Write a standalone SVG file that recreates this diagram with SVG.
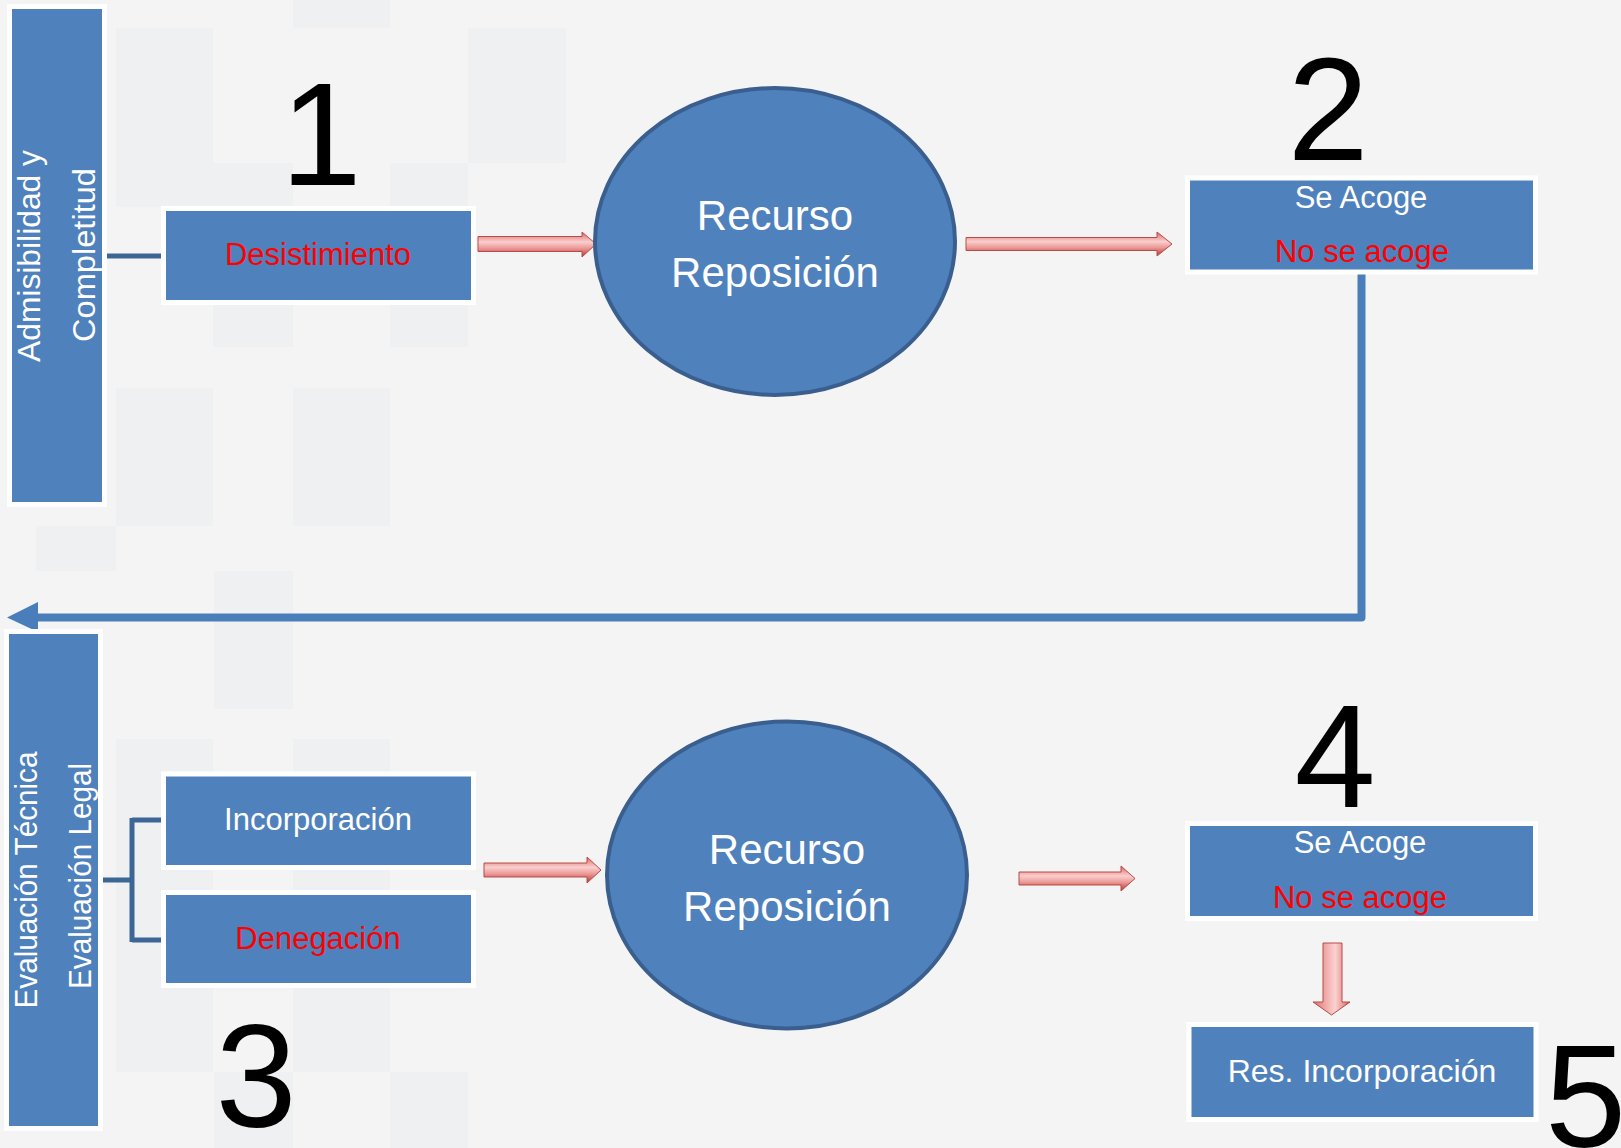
<svg xmlns="http://www.w3.org/2000/svg" width="1621" height="1148" viewBox="0 0 1621 1148">
<style>
.box{fill:#4f81bd;stroke:#ffffff;stroke-width:5}
.ell{fill:#4f81bd;stroke:#3a5f8e;stroke-width:4}
.t{font-family:"Liberation Sans",Arial,sans-serif;font-size:31px;text-anchor:middle}
.w{fill:#ffffff}
.r{fill:#ff0000}
.big{font-family:"Liberation Sans",Arial,sans-serif;font-size:146px;fill:#000000;text-anchor:middle}
.ec{font-family:"Liberation Sans",Arial,sans-serif;font-size:42px;fill:#ffffff;text-anchor:middle}
.link{fill:none;stroke:#3d6595;stroke-width:5}
.ret{fill:none;stroke:#4a7ebb;stroke-width:8;stroke-linejoin:round}
.harr{fill:url(#hg);stroke:#b84c49;stroke-width:1}
.varr{fill:url(#vg);stroke:#b84c49;stroke-width:1}
.mos{fill:#eff0f2}
</style>
<defs>
<linearGradient id="hg" x1="0" y1="0" x2="0" y2="1">
<stop offset="0" stop-color="#d0605e"/>
<stop offset="0.2" stop-color="#ec9c9a"/>
<stop offset="0.4" stop-color="#f9cfce"/>
<stop offset="0.65" stop-color="#ec9896"/>
<stop offset="0.85" stop-color="#cc605d"/>
<stop offset="1" stop-color="#9e3f3d"/>
</linearGradient>
<linearGradient id="vg" x1="0" y1="0" x2="1" y2="0">
<stop offset="0" stop-color="#d9706e"/>
<stop offset="0.3" stop-color="#eea3a1"/>
<stop offset="0.6" stop-color="#fad3d2"/>
<stop offset="0.85" stop-color="#e68d8b"/>
<stop offset="1" stop-color="#b84c49"/>
</linearGradient>
</defs>

<g id="background">
<rect x="0" y="0" width="1621" height="1148" fill="#f4f4f4"/>
<rect class="mos" x="293" y="0" width="97" height="28"/>
<rect class="mos" x="116" y="28" width="97" height="179"/>
<rect class="mos" x="468" y="28" width="98" height="135"/>
<rect class="mos" x="213" y="163" width="80" height="184"/>
<rect class="mos" x="390" y="163" width="78" height="184"/>
<rect class="mos" x="116" y="388" width="97" height="138"/>
<rect class="mos" x="293" y="388" width="97" height="138"/>
<rect class="mos" x="36" y="526" width="80" height="45"/>
<rect class="mos" x="214" y="571" width="79" height="138"/>
<rect class="mos" x="116" y="739" width="97" height="333"/>
<rect class="mos" x="293" y="739" width="97" height="333"/>
<rect class="mos" x="214" y="1072" width="79" height="76"/>
<rect class="mos" x="390" y="1072" width="78" height="76"/>
</g>

<g id="connectors">
<line class="link" x1="105" y1="256" x2="162" y2="256"/>
<path class="link" d="M103 880 H132 M132 818 V942 M132 820 H162 M132 940 H162"/>
<path class="ret" d="M1361.5 272 V617.5 H36"/>
<polygon fill="#4a7ebb" points="7,617.5 38,602 38,632"/>
<path class="harr" d="M478 236.5 H582 V232 L596 244 L582 257 V251.5 H478 Z"/>
<path class="harr" d="M966 237.5 H1157 V232 L1172 244 L1157 256 V250.5 H966 Z"/>
<path class="harr" d="M484 863 H587 V857 L601 870 L587 883 V877 H484 Z"/>
<path class="harr" d="M1019 872 H1121 V866 L1135 878.5 L1121 891 V885 H1019 Z"/>
<path class="varr" d="M1323 943 H1342 V1002 H1350 L1331.5 1015 L1313 1002 H1323 Z"/>
</g>

<g id="bar-admisibilidad">
<rect class="box" x="9.5" y="6.5" width="95" height="498"/>
<text class="t w" transform="translate(40,256) rotate(-90)" textLength="212" lengthAdjust="spacingAndGlyphs">Admisibilidad y</text>
<text class="t w" transform="translate(95,255) rotate(-90)" textLength="174" lengthAdjust="spacingAndGlyphs">Completitud</text>
</g>

<g id="node-desistimiento">
<rect class="box" x="163.5" y="208.5" width="310" height="94"/>
<text class="t r" x="318" y="265">Desistimiento</text>
</g>

<g id="label-1"><text class="big" x="321" y="185">1</text></g>

<g id="node-recurso-1">
<ellipse class="ell" cx="775" cy="241.5" rx="180" ry="153.5"/>
<text class="ec" x="775" y="229.5">Recurso</text>
<text class="ec" x="775" y="287">Reposición</text>
</g>

<g id="label-2"><text class="big" x="1328" y="160">2</text></g>

<g id="node-resultado-1">
<rect class="box" x="1187.5" y="178" width="348" height="94"/>
<text class="t w" x="1361" y="208">Se Acoge</text>
<text class="t r" x="1362" y="262">No se acoge</text>
</g>

<g id="bar-evaluacion">
<rect class="box" x="6.5" y="631.5" width="94" height="497"/>
<text class="t w" transform="translate(37,880) rotate(-90)" textLength="257" lengthAdjust="spacingAndGlyphs">Evaluación Técnica</text>
<text class="t w" transform="translate(91,876) rotate(-90)" textLength="226" lengthAdjust="spacingAndGlyphs">Evaluación Legal</text>
</g>

<g id="node-incorporacion">
<rect class="box" x="163.5" y="774" width="310" height="93.5"/>
<text class="t w" x="318" y="830">Incorporación</text>
</g>

<g id="node-denegacion">
<rect class="box" x="163.5" y="892.5" width="310" height="93"/>
<text class="t r" x="318" y="949">Denegación</text>
</g>

<g id="label-3"><text class="big" x="256" y="1127">3</text></g>

<g id="node-recurso-2">
<ellipse class="ell" cx="787" cy="875" rx="180" ry="153.5"/>
<text class="ec" x="787" y="864">Recurso</text>
<text class="ec" x="787" y="921">Reposición</text>
</g>

<g id="label-4"><text class="big" x="1335" y="807">4</text></g>

<g id="node-resultado-2">
<rect class="box" x="1187.5" y="823.5" width="348" height="95"/>
<text class="t w" x="1360" y="853">Se Acoge</text>
<text class="t r" x="1360" y="908">No se acoge</text>
</g>

<g id="node-res-incorporacion">
<rect class="box" x="1189" y="1024.5" width="347" height="95"/>
<text class="t w" x="1362" y="1082" style="font-size:32px">Res. Incorporación</text>
</g>

<g id="label-5"><text class="big" x="1545" y="1147" style="text-anchor:start">5</text></g>
</svg>
